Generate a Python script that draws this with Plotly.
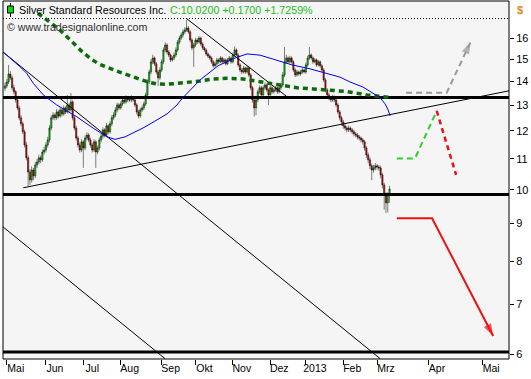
import plotly.graph_objects as go

# ---------------- data ----------------
bar_index = list(range(217))   # trading days from 30 Apr 2012 to early Mar 2013

opens = [13.70, 13.80, 13.97, 14.32, 14.15, 13.72, 13.55, 13.21, 12.89, 12.50,
         12.27, 11.97, 11.49, 11.04, 10.56, 10.31, 10.63, 10.44, 10.80, 10.90,
         11.04, 10.97, 11.24, 11.31, 11.49, 11.67, 12.11, 12.50, 12.61, 12.50,
         12.73, 12.57, 12.81, 12.65, 12.89, 12.73, 13.01, 12.81, 13.13, 12.50,
         12.11, 11.74, 11.49, 11.31, 11.60, 11.38, 11.74, 11.85, 11.67, 11.49,
         11.31, 11.60, 11.24, 11.38, 11.67, 11.81, 12.04, 11.85, 12.19, 11.97,
         12.27, 12.50, 12.61, 12.81, 13.01, 12.89, 13.05, 13.21, 13.13, 13.29,
         13.21, 13.21, 13.29, 13.21, 13.01, 12.73, 12.57, 12.81, 12.89, 13.05,
         13.42, 13.97, 14.41, 14.87, 15.05, 14.78, 14.41, 14.15, 14.50, 14.87,
         15.43, 15.67, 15.33, 15.19, 14.96, 15.05, 15.19, 15.43, 15.81, 16.01,
         16.16, 16.32, 16.42, 16.52, 16.32, 15.91, 15.53, 15.67, 15.91, 15.81,
         16.01, 15.72, 15.53, 15.43, 15.24, 15.14, 15.05, 14.87, 14.69, 14.78,
         14.96, 14.87, 15.05, 14.87, 14.96, 14.78, 14.96, 15.05, 14.87, 15.19,
         15.43, 15.19, 14.73, 14.50, 14.41, 14.59, 14.41, 14.59, 14.28, 13.72,
         13.21, 12.89, 13.21, 13.55, 13.72, 13.42, 13.72, 13.84, 13.63, 13.42,
         13.72, 13.55, 13.63, 13.72, 13.55, 13.72, 13.84, 14.28, 14.87, 15.05,
         14.87, 15.05, 14.87, 14.50, 14.28, 14.41, 14.32, 14.41, 14.50, 14.41,
         14.73, 15.05, 15.19, 15.05, 14.87, 14.96, 14.73, 14.87, 14.69, 14.50,
         14.06, 13.63, 13.42, 13.29, 13.21, 13.34, 13.21, 13.01, 12.73, 12.50,
         12.34, 12.19, 12.11, 12.04, 12.11, 12.04, 11.97, 11.89, 11.85, 11.78,
         11.74, 11.67, 11.60, 11.38, 11.14, 10.97, 10.77, 10.63, 10.70, 10.77,
         10.73, 10.70, 10.47, 10.15, 9.84, 9.60, 9.85]

highs = [13.95, 14.10, 14.73, 14.45, 14.25, 13.85, 13.62, 13.30, 12.98, 12.60,
         12.35, 12.05, 11.60, 11.12, 10.66, 10.75, 10.70, 10.90, 11.00, 11.15,
         11.12, 11.33, 11.42, 11.58, 11.78, 12.22, 12.60, 12.72, 12.68, 12.85,
         12.80, 12.92, 12.88, 12.98, 12.95, 13.42, 13.08, 13.50, 13.20, 12.58,
         12.20, 11.82, 11.58, 11.70, 11.66, 11.84, 11.95, 11.92, 11.75, 11.56,
         11.70, 11.66, 11.47, 11.76, 11.90, 12.14, 12.10, 12.30, 12.25, 12.37,
         12.60, 12.72, 12.92, 13.10, 13.08, 13.15, 13.32, 13.28, 13.40, 13.36,
         13.32, 13.40, 13.36, 13.28, 13.08, 12.82, 12.90, 12.98, 13.14, 13.52,
         14.08, 14.52, 15.00, 15.20, 15.12, 14.86, 14.50, 14.62, 14.98, 15.55,
         15.80, 15.75, 15.42, 15.26, 15.15, 15.30, 15.55, 15.92, 16.12, 16.28,
         16.45, 16.55, 16.93, 16.62, 16.40, 16.00, 15.78, 16.02, 16.00, 16.12,
         16.08, 15.80, 15.60, 15.50, 15.32, 15.22, 15.12, 14.95, 14.88, 15.06,
         15.03, 15.14, 15.11, 15.05, 15.02, 15.05, 15.14, 15.11, 15.30, 15.60,
         15.50, 15.26, 14.80, 14.58, 14.68, 14.65, 14.68, 14.65, 14.35, 13.80,
         13.28, 13.30, 13.65, 13.82, 13.80, 13.82, 13.94, 13.90, 13.70, 13.82,
         13.79, 13.72, 13.80, 13.78, 13.82, 13.94, 14.40, 15.57, 15.20, 15.12,
         15.15, 15.12, 14.94, 14.58, 14.50, 14.48, 14.50, 14.58, 14.56, 14.84,
         15.16, 15.57, 15.26, 15.12, 15.05, 15.02, 14.96, 14.93, 14.76, 14.58,
         14.14, 13.70, 13.50, 13.36, 13.42, 13.40, 13.28, 13.08, 12.80, 12.58,
         12.42, 12.26, 12.18, 12.20, 12.17, 12.10, 12.04, 11.96, 11.92, 11.85,
         11.80, 11.74, 11.67, 11.45, 11.22, 11.05, 10.84, 10.80, 10.86, 10.83,
         10.80, 10.77, 10.54, 10.22, 9.92, 9.92, 10.12]

lows = [13.58, 13.70, 13.88, 14.05, 13.62, 13.45, 13.10, 12.80, 12.40, 12.18,
        11.88, 11.40, 10.95, 10.10, 10.15, 10.22, 10.30, 10.36, 10.70, 10.82,
        10.86, 10.90, 11.15, 11.22, 11.40, 11.58, 12.02, 12.42, 12.40, 12.42,
        12.48, 12.50, 12.55, 12.58, 12.64, 12.66, 12.72, 12.74, 12.40, 12.02,
        11.65, 11.40, 11.22, 11.24, 10.70, 11.30, 11.65, 11.58, 11.40, 11.22,
        11.24, 10.70, 11.16, 11.30, 11.58, 11.72, 11.76, 11.78, 11.88, 11.90,
        12.18, 12.42, 12.52, 12.72, 12.80, 12.82, 12.96, 13.04, 13.06, 13.12,
        13.14, 13.12, 13.14, 12.92, 12.64, 12.48, 12.50, 12.72, 12.80, 12.96,
        13.32, 13.88, 14.30, 14.76, 14.68, 14.30, 13.80, 14.06, 14.40, 14.76,
        15.32, 15.22, 15.08, 14.86, 14.88, 14.95, 15.10, 15.34, 15.70, 15.92,
        16.05, 16.22, 16.32, 16.22, 15.80, 15.42, 14.64, 15.58, 15.72, 15.74,
        15.62, 15.44, 15.34, 15.15, 15.05, 14.96, 14.78, 14.60, 14.62, 14.70,
        14.78, 14.80, 14.78, 14.80, 14.70, 14.72, 14.88, 14.78, 14.80, 15.10,
        15.12, 14.64, 14.40, 14.32, 14.34, 14.32, 14.34, 14.18, 13.62, 13.10,
        12.55, 12.60, 13.12, 13.46, 13.34, 13.35, 13.64, 13.55, 13.00, 13.35,
        13.46, 13.48, 13.55, 13.46, 13.48, 13.64, 13.75, 14.18, 14.78, 14.78,
        14.80, 14.78, 14.40, 14.18, 14.20, 14.24, 14.25, 14.33, 14.34, 14.33,
        14.64, 14.96, 14.97, 14.78, 14.80, 14.64, 14.66, 14.60, 14.40, 13.96,
        13.52, 13.32, 13.20, 13.12, 13.14, 13.12, 12.92, 12.64, 12.40, 12.20,
        12.08, 12.02, 11.95, 11.96, 11.95, 11.88, 11.80, 11.76, 11.69, 11.65,
        11.58, 11.50, 11.28, 11.04, 10.86, 10.66, 10.30, 10.54, 10.62, 10.64,
        10.60, 10.36, 10.04, 9.40, 9.30, 9.32, 9.60]

closes = [13.80, 13.97, 14.32, 14.15, 13.72, 13.55, 13.21, 12.89, 12.50, 12.27,
          11.97, 11.49, 11.04, 10.56, 10.31, 10.63, 10.44, 10.80, 10.90, 11.04,
          10.97, 11.24, 11.31, 11.49, 11.67, 12.11, 12.50, 12.61, 12.50, 12.73,
          12.57, 12.81, 12.65, 12.89, 12.73, 13.01, 12.81, 13.13, 12.50, 12.11,
          11.74, 11.49, 11.31, 11.60, 11.38, 11.74, 11.85, 11.67, 11.49, 11.31,
          11.60, 11.24, 11.38, 11.67, 11.81, 12.04, 11.85, 12.19, 11.97, 12.27,
          12.50, 12.61, 12.81, 13.01, 12.89, 13.05, 13.21, 13.13, 13.29, 13.21,
          13.21, 13.29, 13.21, 13.01, 12.73, 12.57, 12.81, 12.89, 13.05, 13.42,
          13.97, 14.41, 14.87, 15.05, 14.78, 14.41, 14.15, 14.50, 14.87, 15.43,
          15.67, 15.33, 15.19, 14.96, 15.05, 15.19, 15.43, 15.81, 16.01, 16.16,
          16.32, 16.42, 16.52, 16.32, 15.91, 15.53, 15.67, 15.91, 15.81, 16.01,
          15.72, 15.53, 15.43, 15.24, 15.14, 15.05, 14.87, 14.69, 14.78, 14.96,
          14.87, 15.05, 14.87, 14.96, 14.78, 14.96, 15.05, 14.87, 15.19, 15.43,
          15.19, 14.73, 14.50, 14.41, 14.59, 14.41, 14.59, 14.28, 13.72, 13.21,
          12.89, 13.21, 13.55, 13.72, 13.42, 13.72, 13.84, 13.63, 13.42, 13.72,
          13.55, 13.63, 13.72, 13.55, 13.72, 13.84, 14.28, 14.87, 15.05, 14.87,
          15.05, 14.87, 14.50, 14.28, 14.41, 14.32, 14.41, 14.50, 14.41, 14.73,
          15.05, 15.19, 15.05, 14.87, 14.96, 14.73, 14.87, 14.69, 14.50, 14.06,
          13.63, 13.42, 13.29, 13.21, 13.34, 13.21, 13.01, 12.73, 12.50, 12.34,
          12.19, 12.11, 12.04, 12.11, 12.04, 11.97, 11.89, 11.85, 11.78, 11.74,
          11.67, 11.60, 11.38, 11.14, 10.97, 10.77, 10.63, 10.70, 10.77, 10.73,
          10.70, 10.47, 10.15, 9.84, 9.60, 9.85, 10.02]

# moving averages (bar position, price)
ma_blue_x = [-1.1, 2.8, 8.4, 12.2, 15.9, 21.5, 29.0, 40.3, 49.6, 57.1, 61.8, 67.4,
             73.0, 78.1, 85.4, 91.0, 96.1, 100.0, 109.6, 119.7, 129.2, 136.0, 143.3,
             152.2, 161.2, 171.3, 178.7, 182.6, 188.2, 193.8, 201.1, 206.7, 210.7,
             213.5, 215.2, 216.3]
ma_blue_y = [15.33, 15.05, 14.65, 14.35, 13.91, 13.42, 13.01, 12.54, 12.10, 11.79, 11.69, 11.78,
             11.97, 12.13, 12.42, 12.65, 12.97, 13.31, 14.06, 14.69, 15.05, 15.24, 15.18,
             14.96, 14.73, 14.55, 14.39, 14.28, 14.18, 13.97, 13.75, 13.49, 13.30,
             13.05, 12.81, 12.57]

ma_green_x = [18.5, 29.8, 37.6, 43.3, 48.9, 52.8, 57.3, 61.8, 66.3, 71.3, 75.8, 80.3,
              85.4, 91.0, 95.5, 103.9, 109.6, 116.9, 124.7, 133.7, 143.3, 152.8, 164.0,
              173.0, 182.6, 192.1, 203.4, 216.3]
ma_green_y = [17.29, 16.50, 15.83, 15.35, 14.97, 14.77, 14.62, 14.47, 14.35, 14.21, 14.08, 13.97,
              13.88, 13.87, 13.90, 13.96, 14.01, 14.10, 14.13, 14.10, 13.98, 13.84, 13.72,
              13.67, 13.63, 13.56, 13.42, 13.31]

# horizontal levels
levels = [13.31, 9.85, 6.043]
x_span = [-1.12, 283.1]

# trend lines (x = bar position, y = price)
support_x, support_y = [10.3, 283.1], [10.06, 13.59]
down1_x, down1_y = [-1.12, 210.7], [15.33, 5.92]
down2_x, down2_y = [-1.12, 89.9], [8.91, 5.92]
down3_x, down3_y = [102.2, 158.3], [16.99, 13.35]

# scenarios
gray_x, gray_y = [225.3, 248.1, 261.6], [13.51, 13.51, 15.83]
lgreen_x, lgreen_y = [220.1, 230.3, 242.5], [11.02, 11.02, 12.77]
rdash_x, rdash_y = [242.5, 253.4], [12.77, 10.47]
rsolid_x, rsolid_y = [220.1, 239.9, 274.2], [9.15, 9.15, 6.35]

tick_pos = [1, 23, 44, 65, 88, 107, 128, 149, 169, 190, 209, 237.6, 268]
tick_txt = ["Mai", "Jun", "Jul", "Aug", "Sep", "Okt", "Nov", "Dez", "2013", "Feb", "Mrz", "Apr", "Mai"]
price_ticks = [6, 7, 8, 9, 10, 11, 12, 13, 14, 15, 16]

# ---------------- figure ----------------
FONT = "Liberation Sans"
fig = go.Figure()

def line(x, y, color, width, dash="solid"):
    fig.add_trace(go.Scatter(x=x, y=y, mode="lines", hoverinfo="skip",
                             line=dict(color=color, width=width, dash=dash)))

for lv in levels:
    line(x_span, [lv, lv], "black", 3)
line(support_x, support_y, "black", 1)
line(down1_x, down1_y, "black", 1)
line(down2_x, down2_y, "black", 1)
line(down3_x, down3_y, "black", 1)

line(ma_green_x, ma_green_y, "#0b6b0b", 3.5, "5px,4px")

fig.add_trace(go.Candlestick(
    x=bar_index, open=opens, high=highs, low=lows, close=closes,
    increasing=dict(fillcolor="#00e400", line=dict(color="black", width=0.5)),
    decreasing=dict(fillcolor="#f00000", line=dict(color="black", width=0.5)),
    whiskerwidth=0, hoverinfo="skip"))

line(ma_blue_x, ma_blue_y, "#0000ee", 1)

# scenario paths
line(gray_x, gray_y, "#9a9a9a", 2, "6px,4px")
line(lgreen_x, lgreen_y, "#33cc33", 2, "6px,4px")
line(rdash_x, rdash_y, "#ee1111", 2.5, "5px,4px")
line(rsolid_x, rsolid_y, "#ee1111", 2)

def arrowhead(x, y, color, size):
    fig.add_trace(go.Scatter(x=x[-2:], y=y[-2:], mode="markers", hoverinfo="skip",
                             marker=dict(symbol="arrow", angleref="previous",
                                         size=[0, size], color=color,
                                         line=dict(width=0))))
arrowhead(gray_x, gray_y, "#9a9a9a", 13)
arrowhead(rsolid_x, rsolid_y, "#ee1111", 13)

# pixel -> paper helpers for the frame decorations
PX0, PX1, PY0, PY1 = 3, 509, 1, 359
def px(x):
    return (x - PX0) / (PX1 - PX0)
def py(y):
    return (PY1 - y) / (PY1 - PY0)

shapes = [
    dict(type="rect", xref="paper", yref="paper", x0=0, x1=1, y0=0, y1=1,
         line=dict(color="black", width=1)),
    dict(type="line", xref="paper", yref="paper", x0=0, x1=1, y0=py(18.5), y1=py(18.5),
         line=dict(color="black", width=1, dash="1px,2px")),
    # header candle icon
    dict(type="line", xref="paper", yref="paper", x0=px(10.5), x1=px(10.5), y0=py(3), y1=py(17),
         line=dict(color="black", width=1)),
    dict(type="rect", xref="paper", yref="paper", x0=px(7.5), x1=px(13.5), y0=py(13), y1=py(6),
         fillcolor="#00e000", line=dict(color="black", width=1)),
]

annotations = [
    dict(xref="paper", yref="paper", x=px(17), y=py(10), xanchor="left", yanchor="middle",
         text="Silver Standard Resources Inc.", showarrow=False,
         font=dict(family=FONT, size=10.7, color="black")),
    dict(xref="paper", yref="paper", x=px(168), y=py(10), xanchor="left", yanchor="middle",
         text="C:10.0200 +0.1700 +1.7259%", showarrow=False,
         font=dict(family=FONT, size=10.7, color="#19c019")),
    dict(xref="paper", yref="paper", x=px(5), y=py(27), xanchor="left", yanchor="middle",
         text="© www.tradesignalonline.com", showarrow=False,
         font=dict(family=FONT, size=10.7, color="#303030")),
    dict(xref="paper", yref="paper", x=px(520), y=py(10), xanchor="center", yanchor="middle",
         text="<b>$</b>", showarrow=False,
         font=dict(family=FONT, size=11, color="#d98a1a")),
]

fig.update_layout(
    width=531, height=379,
    margin=dict(l=3, r=22, t=1, b=20, pad=0),
    paper_bgcolor="white", plot_bgcolor="#f5f5f5",
    showlegend=False, template="none",
    font=dict(family=FONT, size=11, color="black"),
    boxgap=0.0,
    shapes=shapes, annotations=annotations,
    xaxis=dict(range=[-1.12, 283.1], tickvals=tick_pos, ticktext=tick_txt,
               ticks="outside", ticklen=5, tickcolor="black", tickwidth=1,
               showgrid=False, zeroline=False, showline=False, automargin=False,
               rangeslider=dict(visible=False), ticklabelshift=9,
               ticklabelstandoff=-6,
               tickfont=dict(family=FONT, size=10.5)),
    yaxis=dict(type="log", range=[0.7718, 1.2543], side="right",
               tickvals=price_ticks, ticktext=[str(v) for v in price_ticks],
               ticks="outside", ticklen=4, tickcolor="black", tickwidth=1,
               showgrid=False, zeroline=False, showline=False, automargin=False,
               tickfont=dict(family=FONT, size=11)),
)

fig.write_html("out.html", config={"displayModeBar": False},
               post_script="document.body.style.margin='0';document.body.style.overflow='hidden';")
